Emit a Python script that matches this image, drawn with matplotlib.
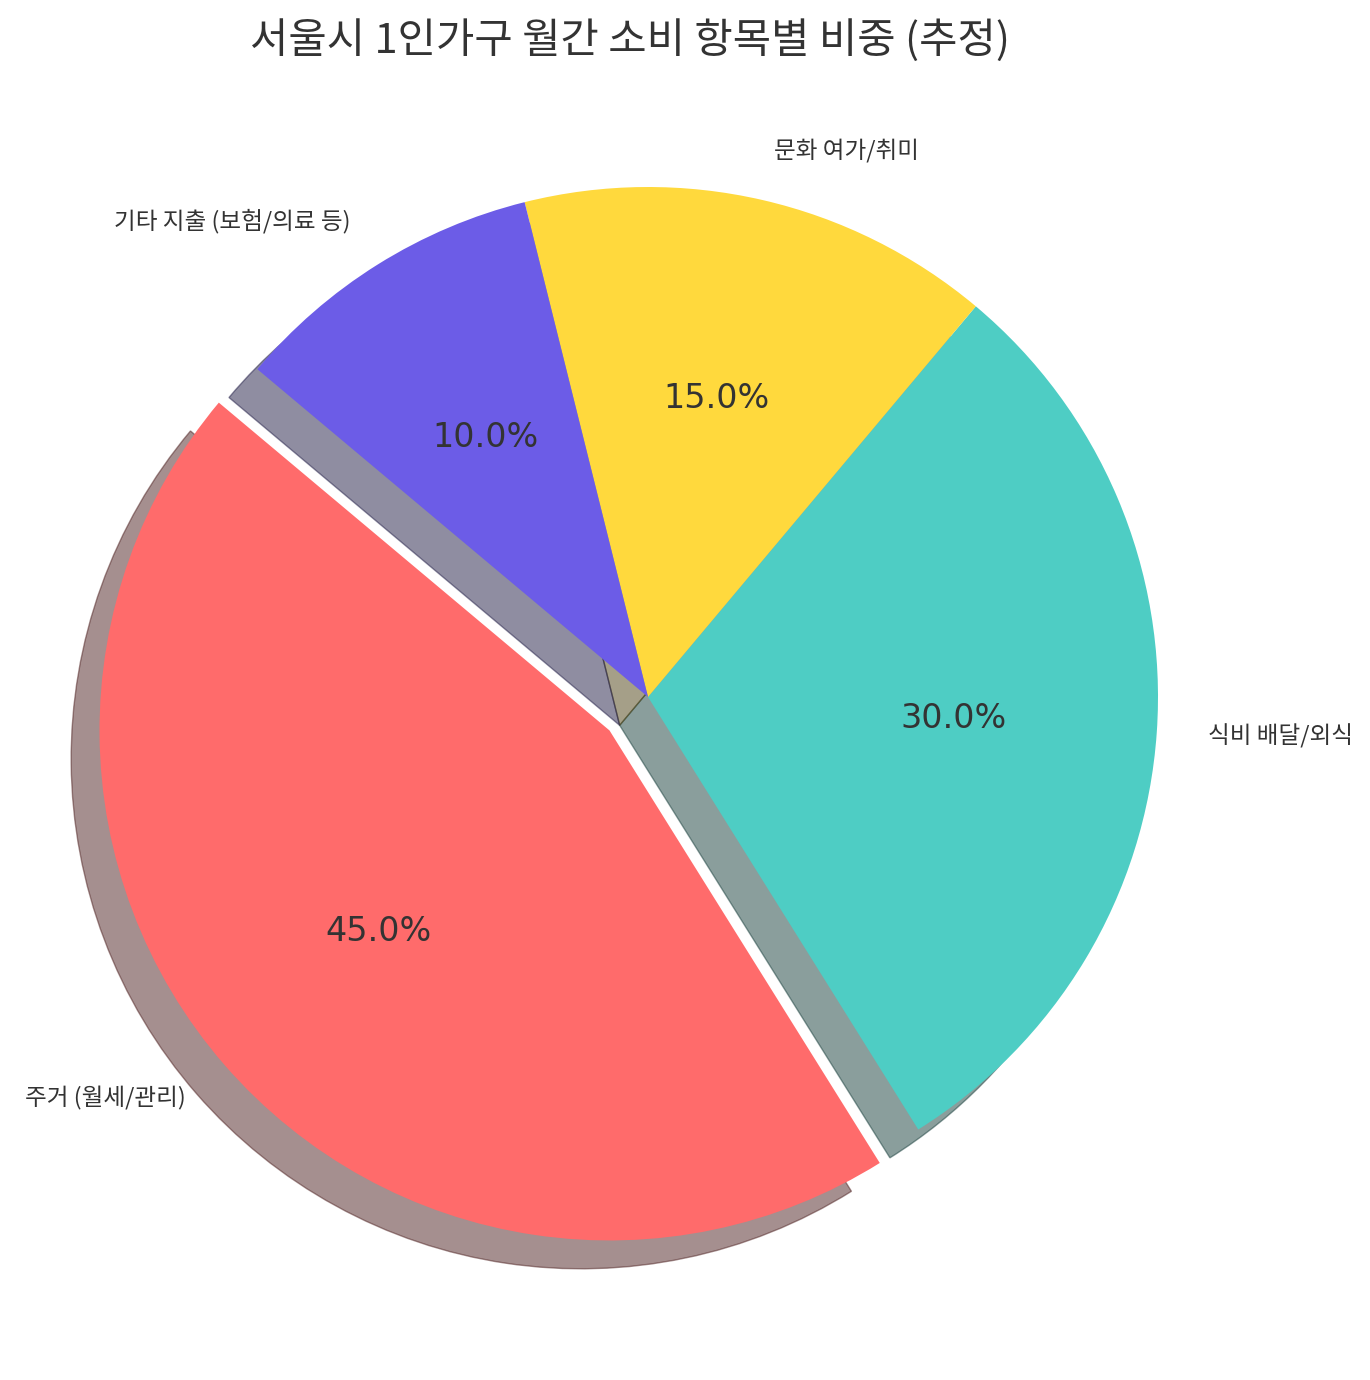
import matplotlib
matplotlib.use("Agg")
import matplotlib.pyplot as plt

plt.rcParams['font.family'] = ['Noto Sans CJK KR', 'DejaVu Sans']
plt.rcParams['text.color'] = '#333333'

title = "서울시 1인가구 월간 소비 항목별 비중 (추정)"
categories = ["주거 (월세/관리)", "식비 배달/외식", "문화 여가/취미", "기타 지출 (보험/의료 등)"]
values = [45, 30, 15, 10]
colors = ["#FF6B6B", "#4ECDC4", "#FFD93D", "#6C5CE7"]
explode = [0.1, 0, 0, 0]

W, H = 1370, 1380
fig = plt.figure(figsize=(W / 100, H / 100), dpi=100)
cx, cy, r = 648, 697, 510
half = 1.25 * r
ax = fig.add_axes([(cx - half) / W, (H - cy - half) / H, 2 * half / W, 2 * half / H])

wedges, texts, autotexts = ax.pie(
    values, labels=categories, colors=colors, explode=explode,
    autopct='%1.1f%%', startangle=140,
    shadow={'ox': -0.04, 'oy': -0.04},
    labeldistance=1.1, pctdistance=0.6,
    textprops={'fontsize': 17},
)
for t in autotexts:
    t.set_fontsize(24)
    t.set_fontfamily(['DejaVu Sans'])
ax.set_xlim(-1.25, 1.25)
ax.set_ylim(-1.25, 1.25)
ax.set_aspect('equal')

fig.text(630 / W, 1 - 40 / H, title, ha='center', va='center',
         fontsize=30, color='#333333')

fig.savefig("out.png", dpi=100)
